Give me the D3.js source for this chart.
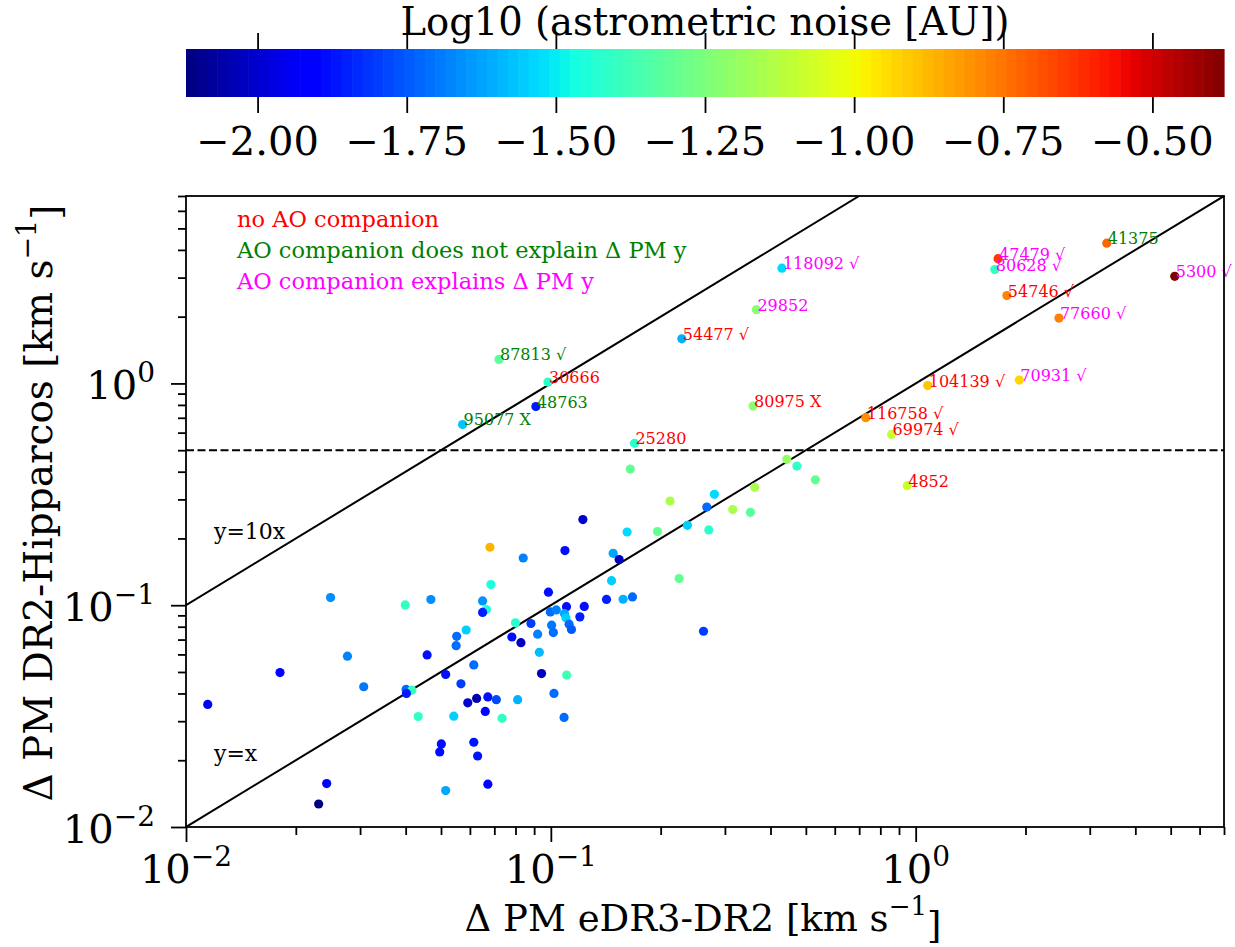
<!DOCTYPE html>
<html><head><meta charset="utf-8">
<script src="https://cdn.jsdelivr.net/npm/d3@7"></script>
<style>body{margin:0;background:#fff} svg{display:block} text{font-family:"DejaVu Serif",serif}</style>
</head><body><svg id="c" width="1235" height="947"></svg>
<script>
// ---- labelled stars ----
const labelIds = ["118092 √","29852","54477 √","47479 √","80628 √","41375","5300 √","54746 √","77660 √","104139 √",
  "70931 √","80975 X","116758 √","69974 √","25280","4852","87813 √","30666","48763","95077 X"];
const labelGroups = [2,2,0,2,2,1,2,0,2,0, 2,0,0,0,0,0,1,0,1,1];
const labelX = [0.430,0.366,0.2286,1.682,1.648,3.34,5.13,1.778,2.47,1.079,
  1.923,0.3584,0.730,0.859,0.1695,0.948,0.0721,0.0982,0.0910,0.0573];
const labelY = [3.31,2.15,1.589,3.65,3.26,4.29,3.04,2.49,1.97,0.978,
  1.035,0.791,0.701,0.589,0.537,0.346,1.283,1.014,0.787,0.653];
const labelNoise = [-1.53,-1.22,-1.60,-0.64,-1.40,-0.72,-0.38,-0.78,-0.77,-0.90,
  -0.93,-1.22,-0.80,-1.10,-1.42,-1.08,-1.32,-1.42,-1.86,-1.57];

// ---- other stars ----
const otherX = [0.1651,0.4434,0.4725,0.5311,0.3621,0.2807,0.2122,0.2676,0.3152,0.3524,
  0.2368,0.2710,0.1960,0.1618,0.1224,0.0681,0.0840,0.1093,0.1482,0.1539,
  0.2247,0.1467,0.0685,0.0650,0.0666,0.0650,0.0985,0.1421,0.1578,0.1674,
  0.1104,0.1235,0.0997,0.1035,0.1090,0.1100,0.1201,0.0800,0.0882,0.1005,
  0.1122,0.1139,0.1016,0.0782,0.0920,0.0828,0.0930,0.0615,0.2621,0.0943,
  0.1105,0.1020,0.0626,0.0672,0.0709,0.0811,0.0592,0.0661,0.0735,0.1087,
  0.0615,0.0630,0.0672,0.0249,0.0399,0.0469,0.0586,0.0552,0.0550,0.0458,
  0.0277,0.0181,0.0307,0.0515,0.0567,0.0401,0.0416,0.0402,0.01147,0.0433,
  0.0542,0.0501,0.0496,0.0243,0.0231,0.0515];
const otherY = [0.411,0.4547,0.4240,0.3675,0.3400,0.3162,0.2950,0.2772,0.2698,0.2623,
  0.2293,0.2184,0.2148,0.2139,0.2432,0.1825,0.1633,0.1764,0.1714,0.1606,
  0.1319,0.1290,0.1239,0.1046,0.0956,0.0928,0.1145,0.1062,0.1064,0.1090,
  0.0985,0.0988,0.0933,0.0952,0.0916,0.0878,0.0886,0.0833,0.0827,0.0813,
  0.0821,0.0777,0.0753,0.0719,0.0740,0.0678,0.0613,0.0538,0.0763,0.0492,
  0.0484,0.0400,0.0380,0.0386,0.0375,0.0375,0.0363,0.0332,0.0309,0.0312,
  0.0241,0.0209,0.0156,0.1083,0.1003,0.1061,0.0773,0.0724,0.0657,0.0597,
  0.0589,0.0497,0.0429,0.0487,0.0442,0.0417,0.0414,0.0400,0.0357,0.0315,
  0.0316,0.0237,0.0218,0.0157,0.0127,0.0146];
const otherNoise = [-1.30,-1.20,-1.40,-1.30,-1.15,-1.53,-1.15,-1.72,-1.15,-1.32,
  -1.55,-1.42,-1.30,-1.53,-2.00,-0.87,-1.68,-1.88,-1.62,-2.02,
  -1.30,-1.55,-1.45,-1.65,-1.45,-1.85,-1.88,-1.85,-1.60,-1.72,
  -1.88,-1.88,-1.72,-1.68,-1.62,-1.55,-1.85,-1.43,-1.80,-1.70,
  -1.72,-1.75,-1.72,-1.88,-1.68,-2.02,-1.58,-1.72,-1.80,-2.03,
  -1.37,-1.72,-2.05,-1.88,-1.78,-1.60,-2.00,-1.90,-1.40,-1.72,
  -1.87,-1.87,-1.90,-1.66,-1.40,-1.66,-1.55,-1.72,-1.72,-1.88,
  -1.68,-1.90,-1.70,-1.88,-1.80,-1.72,-1.40,-1.86,-1.90,-1.40,
  -1.55,-1.88,-1.88,-1.90,-2.12,-1.62];

const legendTexts = ["no AO companion","AO companion does not explain Δ PM y","AO companion explains Δ PM y"];
const legendColors = ["#ff0000","#008000","#ff00ff"];
const cbTicks = [-2.00,-1.75,-1.50,-1.25,-1.00,-0.75,-0.50];
const cbRange = [-2.12,-0.38];
const axisDomain = [0.01,7];
const majorTicks = [0.01,0.1,1];
const majorExp = ["−2","−1","0"];
const hLineY = 0.5;

// ---- jet colormap ----
function interp(pts,t){for(let i=1;i<pts.length;i++){if(t<=pts[i][0]){const a=pts[i-1],b=pts[i];return a[1]+(b[1]-a[1])*(t-a[0])/(b[0]-a[0]);}}return pts[pts.length-1][1];}
const R=[[0,0],[0.35,0],[0.66,1],[0.89,1],[1,0.5]];
const G=[[0,0],[0.125,0],[0.375,1],[0.64,1],[0.91,0],[1,0]];
const B=[[0,0.5],[0.11,1],[0.34,1],[0.65,0],[1,0]];
function jet(t){t=Math.max(0,Math.min(1,t));return d3.rgb(255*interp(R,t),255*interp(G,t),255*interp(B,t)).formatHex();}
const cnorm = d3.scaleLinear().domain(cbRange).range([0,1]).clamp(true);
const color = v => jet(cnorm(v));

const svg = d3.select("#c");
const L=186,Rr=1224,T=196,Bt=827;
const x = d3.scaleLog().domain(axisDomain).range([L,Rr]);
const y = d3.scaleLog().domain(axisDomain).range([Bt,T]);

// minor ticks
const minor=[];
[0.01,0.1,1].forEach(d=>{for(let k=2;k<=9;k++){const v=k*d;if(v<=axisDomain[1]+1e-9)minor.push(v);}});

const gx = svg.append("g").attr("transform",`translate(0,${Bt})`);
gx.call(d3.axisBottom(x).tickValues(majorTicks).tickSize(15).tickSizeOuter(0).tickFormat(()=>""));
gx.call(g=>g.select(".domain").remove());
const gxm = svg.append("g").attr("transform",`translate(0,${Bt})`);
gxm.call(d3.axisBottom(x).tickValues(minor).tickSize(8).tickSizeOuter(0).tickFormat(()=>""));
gxm.call(g=>g.select(".domain").remove());
const gy = svg.append("g").attr("transform",`translate(${L},0)`);
gy.call(d3.axisLeft(y).tickValues(majorTicks).tickSize(15).tickSizeOuter(0).tickFormat(()=>""));
gy.call(g=>g.select(".domain").remove());
const gym = svg.append("g").attr("transform",`translate(${L},0)`);
gym.call(d3.axisLeft(y).tickValues(minor).tickSize(8).tickSizeOuter(0).tickFormat(()=>""));
gym.call(g=>g.select(".domain").remove());
svg.selectAll(".tick line").attr("stroke","#000").attr("stroke-width",1.8);

// tick labels
majorTicks.forEach((v,i)=>{
  const t = svg.append("text").attr("x",x(v)).attr("y",883).attr("text-anchor","middle").attr("font-size",40);
  t.append("tspan").text("10");
  t.append("tspan").attr("dy","-0.62em").attr("font-size",28).text(majorExp[i]);
  const t2 = svg.append("text").attr("x",155).attr("y",y(v)+16).attr("text-anchor","end").attr("font-size",40);
  t2.append("tspan").text("10");
  t2.append("tspan").attr("dy","-0.62em").attr("font-size",28).text(majorExp[i]);
});

// axis labels
const xl = svg.append("text").attr("x",703).attr("y",931).attr("text-anchor","middle").attr("font-size",37);
xl.append("tspan").text("Δ PM eDR3-DR2 [km s");
xl.append("tspan").attr("dy","-0.6em").attr("font-size",26).text("−1");
xl.append("tspan").attr("dy","0.6em").text("]");
const yl = svg.append("text").attr("transform","translate(52,503) rotate(-90)").attr("text-anchor","middle").attr("font-size",39);
yl.append("tspan").text("Δ PM DR2-Hipparcos [km s");
yl.append("tspan").attr("dy","-0.6em").attr("font-size",27).text("−1");
yl.append("tspan").attr("dy","0.6em").text("]");

// plot area clip
svg.append("clipPath").attr("id","clip").append("rect").attr("x",L).attr("y",T).attr("width",Rr-L).attr("height",Bt-T);
const pg = svg.append("g").attr("clip-path","url(#clip)");
const line = d3.line().x(d=>x(d[0])).y(d=>y(d[1]));
pg.append("path").attr("d",line([[axisDomain[0],axisDomain[0]],[axisDomain[1],axisDomain[1]]])).attr("stroke","#000").attr("stroke-width",2).attr("fill","none");
pg.append("path").attr("d",line([[axisDomain[0],axisDomain[0]*10],[axisDomain[1]/10,axisDomain[1]]])).attr("stroke","#000").attr("stroke-width",2).attr("fill","none");
pg.append("path").attr("d",line([[axisDomain[0],hLineY],[axisDomain[1],hLineY]])).attr("stroke","#000").attr("stroke-width",2).attr("stroke-dasharray","8,3.5").attr("fill","none");

// points
const pts = otherX.map((v,i)=>({x:v,y:otherY[i],c:otherNoise[i]})).concat(labelX.map((v,i)=>({x:v,y:labelY[i],c:labelNoise[i]})));
svg.append("g").selectAll("circle").data(pts).join("circle")
  .attr("cx",d=>x(d.x)).attr("cy",d=>y(d.y)).attr("r",4.6).attr("fill",d=>color(d.c));

// point labels
svg.append("g").selectAll("text").data(labelIds).join("text")
  .attr("x",(d,i)=>x(labelX[i])+1).attr("y",(d,i)=>y(labelY[i])+1)
  .attr("font-size",16).attr("fill",(d,i)=>legendColors[labelGroups[i]]).text(d=>d);

// line labels
svg.append("text").attr("x",214).attr("y",539).attr("font-size",22).text("y=10x");
svg.append("text").attr("x",214).attr("y",761).attr("font-size",22).text("y=x");

// legend texts
legendTexts.forEach((t,i)=>{
  svg.append("text").attr("x",237).attr("y",227+i*31).attr("font-size",22.5).attr("fill",legendColors[i]).text(t);
});

// frame
svg.append("rect").attr("x",L).attr("y",T).attr("width",Rr-L).attr("height",Bt-T).attr("fill","none").attr("stroke","#000").attr("stroke-width",1.8);

// ---- colorbar ----
const cx = d3.scaleLinear().domain(cbRange).range([L,Rr]);
const N=100, cbT=49, cbB=97;
const bands = d3.range(N).map(i=>cbRange[0]+(cbRange[1]-cbRange[0])*(i+0.5)/N);
svg.append("g").selectAll("rect").data(bands).join("rect")
  .attr("x",(d,i)=>L+(Rr-L)*i/N).attr("width",(Rr-L)/N+0.6).attr("y",cbT).attr("height",cbB-cbT)
  .attr("fill",d=>color(d));
const cbg = svg.append("g").attr("transform",`translate(0,${cbB})`);
cbg.call(d3.axisBottom(cx).tickValues(cbTicks).tickSize(16).tickSizeOuter(0).tickFormat(()=>""));
cbg.call(g=>g.select(".domain").remove());
const cbg2 = svg.append("g").attr("transform",`translate(0,${cbT})`);
cbg2.call(d3.axisTop(cx).tickValues(cbTicks).tickSize(16).tickSizeOuter(0).tickFormat(()=>""));
cbg2.call(g=>g.select(".domain").remove());
svg.selectAll(".tick line").attr("stroke","#000").attr("stroke-width",1.8);
cbTicks.forEach(v=>{
  svg.append("text").attr("x",cx(v)).attr("y",155).attr("text-anchor","middle").attr("font-size",40)
    .text(d3.format(".2f")(v).replace("-","−"));
});
svg.append("text").attr("x",705).attr("y",35).attr("text-anchor","middle").attr("font-size",38.5)
  .text("Log10 (astrometric noise [AU])");
</script></body></html>
